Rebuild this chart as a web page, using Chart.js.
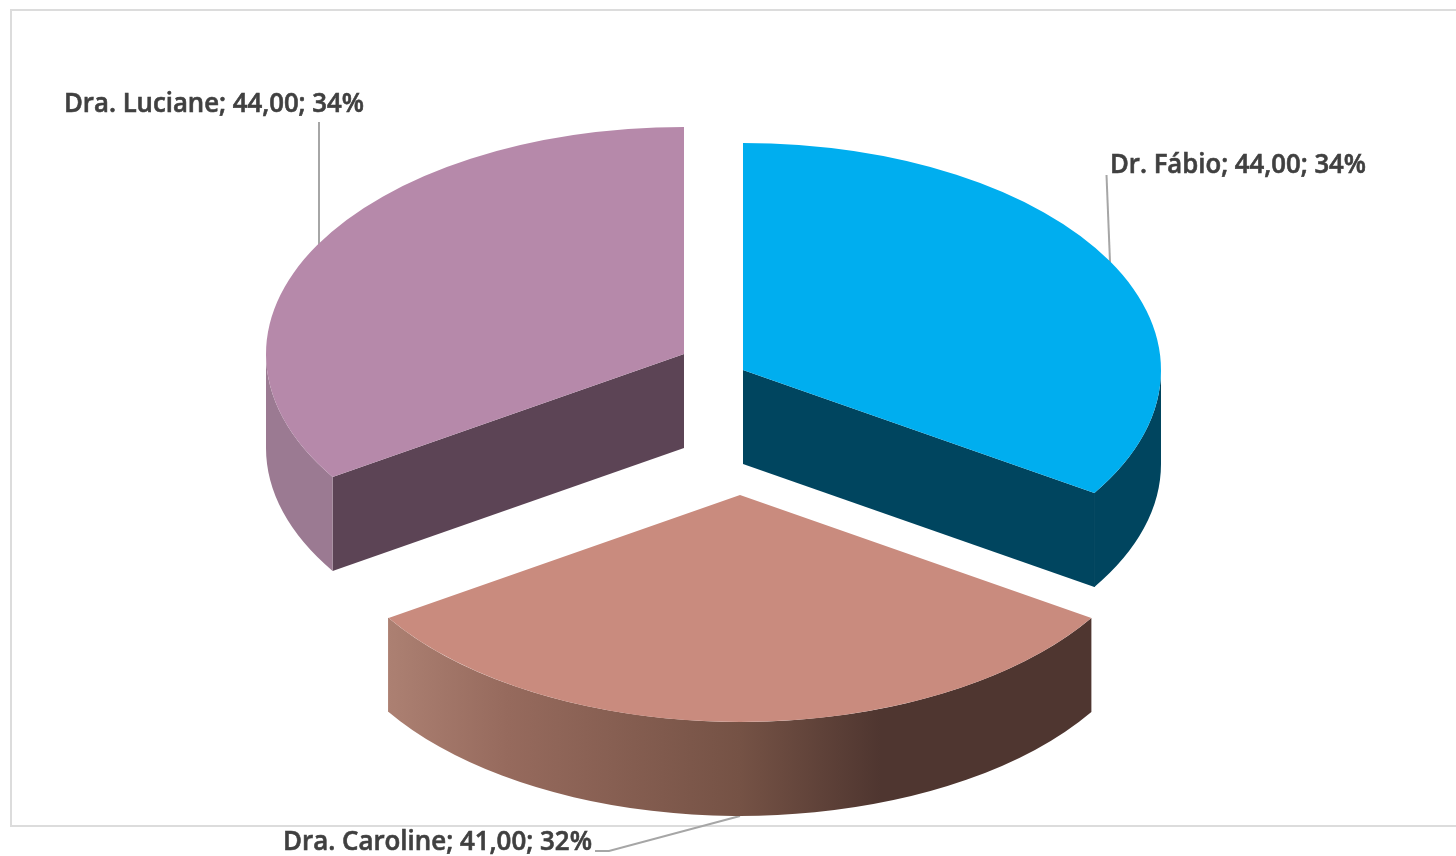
<!DOCTYPE html>
<html><head><meta charset="utf-8">
<style>html,body{margin:0;padding:0;background:#fff;overflow:hidden}canvas{display:block}</style>
<script src="https://cdn.jsdelivr.net/npm/chart.js@4/dist/chart.umd.min.js"></script>
</head><body>
<canvas id="c" width="1456" height="856"></canvas>
<script>
const categories = ['Dr. Fábio', 'Dra. Caroline', 'Dra. Luciane'];
const values = [44, 41, 44];
const topColors = ['#00AEEF', '#C98B7E', '#B689AA'];
const rimColors = ['#00455F', null, '#9B7A92'];
const cutColors = ['#00455F', null, '#5C4455'];
const rimGradientStops = [[0,'#AC8072'],[0.17,'#966A5D'],[0.5,'#755245'],[0.7,'#4F3630'],[1,'#4F3630']];

const view = {
  radius: 418, squash: 0.543, depth: 94,
  centers: [[743,370],[740,495],[684,354]],
  labels: [{x:1110,y:173,w:256},{x:283,y:850,w:309},{x:64,y:112,w:300}],
  leaders: [[[1106.5,175],[1110,262]],[[595,851],[609,851],[740,816]],[[319,122],[319,246]]]
};

const total = values.reduce((a,b)=>a+b,0);
const labelText = i => `${categories[i]}; ${values[i].toFixed(2).replace('.',',')}; ${Math.round(values[i]/total*100)}%`;

const pie3d = {
  id:'pie3d',
  beforeDraw(chart){
    const c = chart.ctx;
    c.save();
    c.fillStyle = '#fff'; c.fillRect(0,0,chart.width,chart.height);
    c.fillStyle = '#DCDCDC';
    c.fillRect(10,9,1446,2); c.fillRect(10,9,2,818); c.fillRect(10,825,1446,2);
    c.strokeStyle = '#A6A6A6'; c.lineWidth = 2;
    view.leaders.forEach(l=>{ c.beginPath(); l.forEach((p,i)=> i?c.lineTo(p[0],p[1]):c.moveTo(p[0],p[1])); c.stroke(); });
    c.restore();
  },
  beforeDatasetDraw(chart,args){
    const c = chart.ctx, R = view.radius, k = view.squash, d = view.depth;
    const arcs = chart.getDatasetMeta(args.index).data;
    arcs.forEach((arc,i)=>{
      const [cx,cy] = view.centers[i], ry = R*k;
      const a0 = arc.startAngle, a1 = arc.endAngle;
      c.save();
      if (cutColors[i]) {
        [a0,a1].forEach(a=>{
          if (Math.sin(a) <= 0.001) return;
          const tx = cx+R*Math.cos(a), ty = cy+ry*Math.sin(a);
          c.beginPath(); c.moveTo(cx,cy); c.lineTo(tx,ty); c.lineTo(tx,ty+d); c.lineTo(cx,cy+d); c.closePath();
          c.fillStyle = cutColors[i]; c.fill();
        });
      }
      const r0 = Math.max(a0,0), r1 = Math.min(a1,Math.PI);
      if (r1 > r0) {
        let fill = rimColors[i];
        if (!fill) {
          fill = c.createLinearGradient(cx+R*Math.cos(a1),0,cx+R*Math.cos(a0),0);
          rimGradientStops.forEach(s=>fill.addColorStop(s[0],s[1]));
        }
        c.beginPath();
        c.ellipse(cx,cy,R,ry,0,r0,r1,false);
        c.ellipse(cx,cy+d,R,ry,0,r1,r0,true);
        c.closePath();
        c.fillStyle = fill; c.fill();
        if (rimColors[i] === cutColors[i]) {
          c.strokeStyle = fill; c.lineWidth = 1;
          const tx = cx+R*Math.cos(r1), ty = cy+ry*Math.sin(r1);
          c.beginPath(); c.moveTo(tx,ty); c.lineTo(tx,ty+d); c.stroke();
        }
      }
      c.translate(cx,cy); c.scale(1,k); c.translate(-arc.x,-arc.y);
      arc.draw(c);
      c.restore();
    });
    return false;
  },
  afterDraw(chart){
    const c = chart.ctx;
    c.save();
    c.font = '600 27px "Open Sans"';
    c.fillStyle = '#404040'; c.strokeStyle = '#404040'; c.lineWidth = 0.6;
    c.textBaseline = 'alphabetic'; c.textAlign = 'left';
    view.labels.forEach((l,i)=> {
      c.fillText(labelText(i), l.x, l.y, l.w);
      c.strokeText(labelText(i), l.x, l.y, l.w);
    });
    c.restore();
  }
};

new Chart(document.getElementById('c'),{
  type:'pie',
  data:{labels:categories,datasets:[{data:values,backgroundColor:topColors,borderWidth:0,radius:view.radius}]},
  options:{responsive:false,animation:false,rotation:0,layout:{padding:0},
    plugins:{legend:{display:false},tooltip:{enabled:false}}},
  plugins:[pie3d]
});
</script>
</body></html>
